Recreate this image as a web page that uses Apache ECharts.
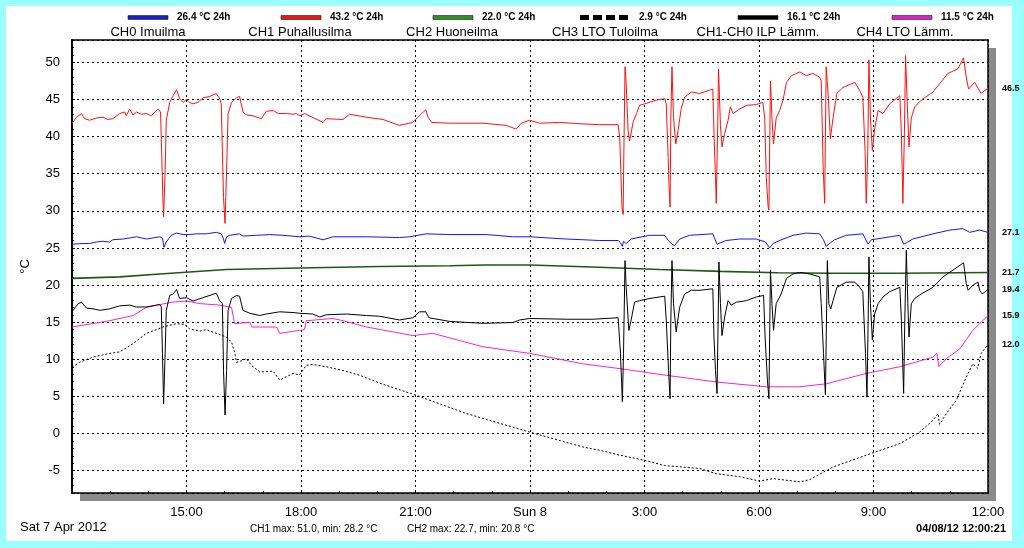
<!DOCTYPE html>
<html>
<head>
<meta charset="utf-8">
<script src="https://cdn.jsdelivr.net/npm/echarts@6/dist/echarts.min.js"></script>
<style>
  html, body { margin: 0; padding: 0; background: #99ffff; }
  #chart-container { width: 1024px; height: 548px; }
</style>
</head>
<body>
<div id="chart-container"></div>
<script>
// x = hours since Sat 7 Apr 12:00, y = °C
var xTickLabels = ['', '15:00', '18:00', '21:00', 'Sun 8', '3:00', '6:00', '9:00', '12:00'];
var seriesNames = ['CH0 Imuilma', 'CH1 Puhallusilma', 'CH2 Huoneilma', 'CH3 LTO Tuloilma', 'CH1-CH0 ILP Lämm.', 'CH4 LTO Lämm.'];
var avg24h = ['26.4', '43.2', '22.0', '2.9', '16.1', '11.5'];
var footerLeft = 'Sat 7 Apr 2012';
var footerStats = ['CH1 max: 51.0, min: 28.2 °C', 'CH2 max: 22.7, min: 20.8 °C'];
var footerStamp = '04/08/12 12:00:21';

var ch0 = [[0,25.5],[0.29,25.6],[0.46,25.6],[0.64,25.8],[0.81,25.9],[0.99,25.8],[1.07,26.1],[1.34,26.2],[1.69,26.5],[1.95,26.2],[2.3,26.5],[2.37,26.3],[2.41,25.1],[2.47,25.8],[2.6,26.7],[2.74,27.0],[2.91,26.8],[3.08,26.8],[3.26,26.9],[3.52,26.9],[3.78,27.1],[3.91,26.9],[3.97,26.2],[4.0,25.6],[4.05,26.5],[4.13,26.7],[4.39,26.9],[4.48,26.6],[4.83,26.7],[5.18,26.8],[5.53,26.7],[5.97,26.5],[6.21,26.6],[6.58,26.1],[6.84,26.5],[7.71,26.5],[8.58,26.4],[8.85,26.5],[9.28,26.9],[9.9,26.8],[10.86,26.8],[11.55,26.5],[11.99,26.5],[12.95,26.2],[13.83,26.0],[14.31,26.0],[14.37,25.7],[14.42,25.2],[14.45,25.9],[14.52,25.6],[14.65,26.2],[15.13,26.7],[15.53,26.7],[15.62,26.0],[15.7,25.6],[15.79,25.3],[15.92,26.2],[16.18,26.7],[16.79,26.9],[16.9,25.5],[16.99,25.7],[17.14,26.0],[17.49,26.2],[17.93,26.2],[18.17,25.8],[18.28,25.0],[18.37,25.6],[18.54,26.0],[18.89,26.7],[19.24,27.0],[19.59,26.9],[19.69,26.1],[19.76,25.2],[19.87,25.7],[19.98,26.1],[20.29,26.7],[20.72,26.9],[20.86,25.5],[20.94,26.1],[21.07,26.2],[21.69,26.7],[21.79,25.5],[21.9,25.8],[22.03,26.2],[22.56,26.9],[23.0,27.4],[23.34,27.6],[23.52,27.1],[23.78,27.4],[24,27.1]];

var ch1 = [[0,41.8],[0.12,42.6],[0.25,43.1],[0.33,42.4],[0.46,42.2],[0.64,42.5],[0.81,42.6],[0.86,42.8],[0.94,42.3],[1.07,42.4],[1.25,43.1],[1.38,43.3],[1.42,42.8],[1.51,43.7],[1.6,42.9],[1.69,43.3],[1.82,43.0],[1.95,43.1],[2.08,42.8],[2.17,43.3],[2.25,43.7],[2.32,43.3],[2.35,37.7],[2.38,31.8],[2.4,29.2],[2.44,35.4],[2.47,42.2],[2.56,44.6],[2.65,45.5],[2.74,46.3],[2.82,45.1],[2.91,44.6],[3.0,45.0],[3.08,44.6],[3.17,44.4],[3.3,44.6],[3.43,45.2],[3.61,45.4],[3.78,45.8],[3.87,45.1],[3.91,44.4],[3.94,38.1],[3.97,31.8],[4.01,28.3],[4.05,35.4],[4.09,43.1],[4.18,44.6],[4.31,45.2],[4.39,45.4],[4.48,43.3],[4.57,42.9],[4.74,42.8],[4.96,42.4],[5.09,43.4],[5.27,43.5],[5.4,43.1],[5.62,43.1],[5.79,43.0],[5.88,43.1],[5.97,42.8],[6.1,43.1],[6.21,42.8],[6.58,41.9],[6.66,42.4],[7.1,42.3],[7.27,43.0],[7.71,42.6],[8.15,42.3],[8.58,41.5],[8.93,41.9],[9.06,42.6],[9.27,43.6],[9.33,42.6],[9.42,41.9],[9.9,41.8],[10.77,41.8],[11.38,41.5],[11.64,41.0],[11.77,41.8],[11.99,42.2],[12.25,41.8],[12.78,41.9],[13.39,41.7],[13.83,41.6],[14.31,41.6],[14.35,39.9],[14.41,30.5],[14.44,29.5],[14.46,38.1],[14.49,49.4],[14.52,47.1],[14.57,40.8],[14.61,39.4],[14.7,41.9],[14.79,43.1],[14.87,44.2],[15.0,44.4],[15.31,44.9],[15.53,45.1],[15.57,44.4],[15.62,37.2],[15.64,33.7],[15.67,30.5],[15.69,42.6],[15.72,49.4],[15.76,42.6],[15.82,39.0],[15.88,40.8],[15.96,43.7],[16.05,45.3],[16.23,46.0],[16.45,45.8],[16.79,46.4],[16.82,40.5],[16.86,34.5],[16.88,31.0],[16.92,42.0],[16.94,49.1],[16.99,41.5],[17.03,38.6],[17.1,40.4],[17.19,42.2],[17.25,44.0],[17.32,43.1],[17.49,43.7],[17.67,44.2],[17.93,44.3],[18.1,44.6],[18.15,42.5],[18.19,34.5],[18.24,30.5],[18.26,30.1],[18.3,47.5],[18.34,42.5],[18.38,39.0],[18.45,42.5],[18.54,43.5],[18.63,44.9],[18.72,47.3],[18.85,48.2],[19.07,48.7],[19.24,48.2],[19.41,48.5],[19.59,48.0],[19.63,47.5],[19.68,36.0],[19.72,31.0],[19.76,49.4],[19.82,45.0],[19.87,39.7],[19.94,42.5],[20.04,45.8],[20.2,46.6],[20.51,47.3],[20.64,46.2],[20.72,45.3],[20.78,38.0],[20.81,31.0],[20.85,38.0],[20.88,50.3],[20.92,42.5],[20.97,38.1],[21.03,41.0],[21.12,43.5],[21.25,43.1],[21.42,44.4],[21.69,45.5],[21.73,40.5],[21.77,31.0],[21.81,40.5],[21.84,50.9],[21.88,45.0],[21.93,38.6],[21.99,42.5],[22.08,44.0],[22.25,44.9],[22.56,46.0],[22.73,47.1],[22.95,48.5],[23.21,49.1],[23.36,50.6],[23.43,48.0],[23.49,46.4],[23.65,47.3],[23.69,47.5],[23.82,45.8],[23.97,46.4],[24,46.5]];

var ch2 = [[0,20.9],[1.25,21.1],[2.3,21.5],[4.05,22.1],[5.96,22.3],[8.06,22.5],[9.9,22.6],[10.8,22.7],[12,22.7],[13.8,22.4],[15.4,22.1],[17,21.85],[18.5,21.65],[19.85,21.6],[21.69,21.6],[24,21.7]];

var ch3 = [[0,8.96],[0.2,9.6],[0.55,10.3],[0.99,10.8],[1.25,11.0],[1.6,12.1],[1.95,13.5],[2.21,14.0],[2.38,14.35],[2.74,14.8],[2.95,14.7],[3.08,14.1],[3.35,13.8],[3.52,14.0],[3.78,13.5],[4.05,13.0],[4.18,12.3],[4.26,11.0],[4.31,9.6],[4.44,9.8],[4.57,10.1],[4.7,9.2],[4.92,8.3],[5.27,8.4],[5.44,7.2],[5.79,8.1],[5.96,7.9],[6.14,9.2],[6.31,9.3],[6.66,9.0],[7.1,8.5],[7.54,7.85],[8.06,6.8],[9.02,5.15],[10.33,2.7],[11.99,0.2],[13.38,-1.8],[13.83,-2.25],[14.35,-2.9],[15.0,-3.6],[15.52,-4.3],[16.45,-4.7],[16.88,-5.4],[17.49,-5.8],[18.02,-6.4],[18.37,-6.06],[19.07,-6.5],[19.33,-6.2],[19.94,-4.5],[20.81,-2.9],[21.69,-1.35],[22.21,0.2],[22.56,1.8],[22.69,2.7],[22.73,1.25],[22.91,2.7],[23.17,4.5],[23.43,7.6],[23.6,9.4],[23.73,8.8],[23.82,10.8],[24,12.0]];

var chDiff = [[0,16.4],[0.16,17.5],[0.25,17.7],[0.38,16.9],[0.55,16.8],[0.73,16.6],[0.99,16.8],[1.25,17.2],[1.51,17.3],[1.69,17.05],[1.95,17.05],[2.21,17.3],[2.3,17.4],[2.34,17.05],[2.37,10.8],[2.4,4.0],[2.44,10.8],[2.47,16.6],[2.56,18.6],[2.65,18.8],[2.74,19.4],[2.82,18.2],[3.0,18.3],[3.17,17.85],[3.43,18.3],[3.69,18.75],[3.78,18.9],[3.87,17.9],[3.94,17.5],[3.97,8.5],[4.01,2.5],[4.05,8.5],[4.09,16.6],[4.18,18.2],[4.31,18.6],[4.39,18.5],[4.48,16.6],[4.66,16.2],[4.92,15.9],[5.09,16.1],[5.44,16.4],[5.79,16.3],[5.97,16.2],[6.31,16.1],[6.49,15.7],[6.66,16.0],[7.19,16.1],[7.71,15.9],[8.06,15.8],[8.58,15.3],[8.93,15.6],[9.11,16.4],[9.27,16.4],[9.35,15.6],[9.9,15.1],[10.77,14.85],[11.55,14.95],[11.73,15.3],[11.99,15.5],[12.95,15.4],[13.65,15.4],[14.31,15.6],[14.37,10.8],[14.42,4.3],[14.45,10.8],[14.49,23.3],[14.52,19.7],[14.59,13.9],[14.65,15.3],[14.74,17.7],[14.87,17.9],[15.14,18.2],[15.53,18.5],[15.57,15.3],[15.63,8.5],[15.67,4.7],[15.69,15.3],[15.72,23.3],[15.76,17.5],[15.83,13.7],[15.92,17.0],[16.05,18.8],[16.23,19.3],[16.45,19.3],[16.79,19.5],[16.82,13.0],[16.86,8.5],[16.9,5.4],[16.93,15.3],[16.95,23.1],[16.99,17.5],[17.03,13.2],[17.1,15.7],[17.19,17.9],[17.27,17.3],[17.41,17.7],[17.67,17.9],[17.93,18.4],[18.12,18.6],[18.16,13.0],[18.22,7.2],[18.26,4.7],[18.3,22.0],[18.34,17.5],[18.38,13.9],[18.45,17.5],[18.58,18.8],[18.72,20.9],[18.89,21.5],[19.07,21.7],[19.33,21.5],[19.59,21.1],[19.63,17.5],[19.69,10.8],[19.74,5.2],[19.79,23.3],[19.83,17.5],[19.88,16.8],[19.94,17.9],[20.04,19.7],[20.29,20.4],[20.51,20.4],[20.64,19.7],[20.72,19.1],[20.79,10.8],[20.83,4.9],[20.86,15.3],[20.88,23.8],[20.92,17.5],[20.97,12.6],[21.03,16.1],[21.12,17.5],[21.25,18.4],[21.42,19.1],[21.69,19.7],[21.73,15.3],[21.79,5.4],[21.82,15.3],[21.86,24.7],[21.9,17.5],[21.93,13.0],[21.99,17.5],[22.08,18.2],[22.25,18.8],[22.56,19.7],[22.82,21.1],[23.08,22.0],[23.36,23.0],[23.43,20.2],[23.48,19.3],[23.61,20.0],[23.74,20.4],[23.78,19.3],[23.85,18.8],[24,19.4]];

var ch4 = [[0,14.35],[0.99,15.2],[1.6,15.9],[1.95,17.0],[2.62,17.7],[3.0,17.85],[3.36,17.5],[3.87,17.3],[4.18,17.0],[4.26,14.8],[4.66,15.0],[4.71,14.35],[5.36,14.35],[5.44,13.5],[5.96,13.9],[6.09,14.0],[6.14,15.2],[6.83,15.5],[7.1,15.2],[7.72,14.35],[8.93,13.2],[9.45,13.5],[10.76,11.7],[11.99,10.8],[13.38,9.4],[14.35,8.75],[15.57,7.85],[16.88,6.95],[18.19,6.3],[19.06,6.3],[19.76,6.7],[20.81,8.1],[21.69,9.0],[22.56,10.3],[22.66,10.85],[22.71,9.0],[22.91,10.1],[23.26,11.4],[23.6,13.9],[24,15.9]];

var seriesData = [ch0, ch1, ch2, ch3, chDiff, ch4];
var lineColors = ['#1414ff', '#ff1010', '#1d5a12', '#000000', '#000000', '#ff22c4'];
var swatchColors = ['#1a1ad0', '#ee1515', '#2f8f24', '#000000', '#000000', '#dd22cc'];

var FONT = '"Liberation Sans", Arial, sans-serif';

var dom = document.getElementById('chart-container');
var myChart = echarts.init(dom, null, { renderer: 'canvas' });

// legend blocks: swatch + 24h average on top, channel name below
var nameCenters = [148, 300, 452, 605, 758, 905];
var swatchLeft = [128, 281, 433, 580, 738, 892];
var graphics = [
  { type: 'rect', z: -10, shape: { x: 6, y: 6, width: 1006, height: 535 }, style: { fill: '#ffffff' } }
];
seriesNames.forEach(function (name, i) {
  var w = i === 3 ? 50 : 40;
  if (i === 3) {
    graphics.push({ type: 'line', shape: { x1: swatchLeft[i], y1: 17.5, x2: swatchLeft[i] + w, y2: 17.5 },
      style: { stroke: '#000', lineWidth: 5, lineDash: [9, 4] } });
  } else {
    graphics.push({ type: 'rect', shape: { x: swatchLeft[i], y: 15.5, width: w, height: 4 },
      style: { fill: swatchColors[i], stroke: '#222', lineWidth: 0.6 } });
  }
  graphics.push({ type: 'text', x: swatchLeft[i] + w + 9, y: 17.5,
    style: { text: avg24h[i] + ' °C 24h', font: 'bold 10px ' + FONT, fill: '#000', textVerticalAlign: 'middle' } });
  graphics.push({ type: 'text', x: nameCenters[i], y: 32.5,
    style: { text: name, font: '13px ' + FONT, fill: '#000', textAlign: 'center', textVerticalAlign: 'middle' } });
});
graphics.push({ type: 'text', x: 20, y: 527, style: { text: footerLeft, font: '13px ' + FONT, fill: '#000', textVerticalAlign: 'middle' } });
graphics.push({ type: 'text', x: 250, y: 529, style: { text: footerStats[0], font: '10px ' + FONT, fill: '#000', textVerticalAlign: 'middle' } });
graphics.push({ type: 'text', x: 407, y: 529, style: { text: footerStats[1], font: '10px ' + FONT, fill: '#000', textVerticalAlign: 'middle' } });
graphics.push({ type: 'text', x: 1006, y: 529, style: { text: footerStamp, font: 'bold 11px ' + FONT, fill: '#000', textAlign: 'right', textVerticalAlign: 'middle' } });

var frameAxis = {
  axisLine: { show: true, onZero: false, lineStyle: { color: '#000', width: 1.5 } },
  axisTick: { show: false }, axisLabel: { show: false }, splitLine: { show: false }
};

var option = {
  animation: false,
  backgroundColor: '#99ffff',
  graphic: graphics,
  grid: {
    left: 72, right: 36, top: 40, bottom: 55,
    show: true, z: 0,
    backgroundColor: '#ffffff',
    borderWidth: 0,
    shadowColor: '#8a8a8a', shadowBlur: 0, shadowOffsetX: 8, shadowOffsetY: 8
  },
  xAxis: [{
    type: 'value', min: 0, max: 24, interval: 3,
    axisLine: { show: true, onZero: false, lineStyle: { color: '#000', width: 1.5 } },
    axisTick: { show: true, inside: true, length: 3, lineStyle: { color: '#000' } },
    minorTick: { show: true, splitNumber: 3, length: 2, lineStyle: { color: '#000' } },
    axisLabel: {
      color: '#000', fontSize: 13, fontFamily: FONT, margin: 13,
      formatter: function (v) { return xTickLabels[Math.round(v / 3)]; }
    },
    splitLine: { show: true, lineStyle: { color: '#000', type: [2, 3], width: 1 } }
  }, Object.assign({ type: 'value', position: 'top', min: 0, max: 24 }, frameAxis)],
  yAxis: [{
    type: 'value', min: -8, max: 53, splitNumber: 12,
    name: '°C', nameLocation: 'middle', nameGap: 40, nameRotate: 90,
    nameTextStyle: { color: '#000', fontSize: 13, fontFamily: FONT },
    axisLine: { show: true, onZero: false, lineStyle: { color: '#000', width: 2 } },
    axisTick: { show: true, inside: true, length: 3, lineStyle: { color: '#000' } },
    minorTick: { show: true, splitNumber: 5, length: 2, lineStyle: { color: '#000' } },
    axisLabel: { color: '#000', fontSize: 13, fontFamily: FONT, margin: 12, showMinLabel: false, showMaxLabel: false },
    splitLine: { show: true, lineStyle: { color: '#000', type: [2, 3], width: 1 } }
  }, Object.assign({ type: 'value', position: 'right', min: -8, max: 53 }, frameAxis)],
  series: seriesData.map(function (d, i) {
    return {
      name: seriesNames[i],
      type: 'line',
      data: d,
      symbol: 'none',
      z: 2 + (i === 4 ? 1 : 0),
      lineStyle: {
        color: lineColors[i],
        width: i === 2 ? 1.6 : 1,
        type: i === 3 ? [2, 2] : 'solid'
      },
      endLabel: {
        show: true, distance: 14,
        formatter: function (p) { return p.value[1].toFixed(1); },
        color: '#000', fontSize: 9, fontWeight: 'bold', fontFamily: FONT
      }
    };
  })
};

myChart.setOption(option);
window.addEventListener('resize', myChart.resize);
</script>
</body>
</html>
